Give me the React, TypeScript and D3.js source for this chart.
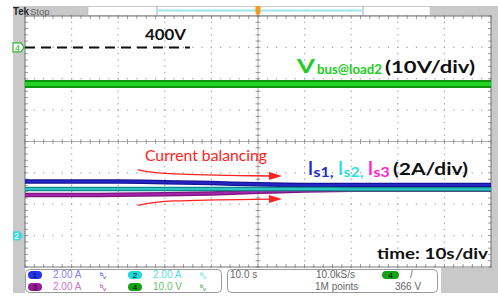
import React from 'react';
import * as d3 from 'd3';

// scope capture: 10 s/div, 10 divisions
const timeS = [0, 10, 20, 30, 40, 50, 60, 70, 80, 90, 100];
const vbusV = [388.3, 388.3, 388.3, 388.3, 388.3, 388.3, 388.3, 388.3, 388.3, 388.3, 388.3];
const is1A = [3.45, 3.45, 3.45, 3.41, 3.35, 3.27, 3.23, 3.23, 3.23, 3.22, 3.22];
const is2A = [2.97, 2.97, 2.97, 2.97, 2.97, 2.97, 2.97, 2.96, 2.96, 2.96, 2.96];
const is3A = [2.59, 2.59, 2.6, 2.63, 2.69, 2.79, 2.88, 2.92, 2.93, 2.93, 2.93];

// annotation arrows (time s, amps on the current scale)
const arrowUpper = [[24.2, 4.2], [29, 3.9], [53, 3.8]];
const arrowLower = [[24.2, 1.93], [29, 2.25], [53, 2.33]];

const chNames = ['1', '2', '3', '4'];
const chScales = ['2.00 A', '2.00 A', '2.00 A', '10.0 V'];
const refLabel = '400V';

const X0 = 25, X1 = 491, Y0 = 16, Y1 = 267;

export default function App() {
  const x = d3.scaleLinear().domain([0, 100]).range([X0, X1]);
  const yDiv = d3.scaleLinear().domain([-4, 4]).range([Y1, Y0]);
  const yV = (v: number) => yDiv(3 + (v - 400) / 10);
  const yA = (a: number) => yDiv(-3 + a / 2);

  const lineOf = (vals: number[], ys: (v: number) => number) =>
    d3.line<number>().x((_, i) => x(timeS[i])).y((d) => ys(d)).curve(d3.curveMonotoneX)(vals) || '';
  const arrowPath = (pts: number[][]) =>
    d3.line<number[]>().x((d) => x(d[0])).y((d) => yA(d[1])).curve(d3.curveBasis)(pts) || '';
  const head = (pts: number[][]) => {
    const p = pts[pts.length - 1];
    const ex = x(p[0]) + 10, ey = yA(p[1]);
    return `M${ex - 13},${ey - 4}L${ex},${ey}L${ex - 13},${ey + 4}Z`;
  };

  const majorX = d3.range(0, 11).map((i) => x(i * 10));
  const majorY = d3.range(-4, 5).map((d) => yDiv(d));
  const minorX = d3.range(0, 51).map((i) => x(i * 2));
  const minorY = d3.range(0, 41).map((i) => yDiv(-4 + i * 0.2));
  const cx = x(50), cy = yDiv(0);

  const chColors = ['#2233ee', '#22d8dc', '#99189c', '#15a015'];
  const chText = ['#7f7fff', '#55dde0', '#cc70cc', '#66c266'];
  const ui = 'Liberation Sans, Arial, sans-serif';
  const lab = 'Lato, sans-serif';

  return (
    <svg width={498} height={296} style={{ position: 'absolute', left: 0, top: 0 }}>
      <rect width={498} height={296} fill="#fff" />
      {/* frame */}
      <rect x={13} y={6} width={485} height={10} fill="#c9c9c9" />
      <rect x={13} y={6} width={12} height={287} fill="#c9c9c9" />
      <rect x={491} y={6} width={7} height={263} fill="#c9c9c9" />
      <rect x={441} y={268} width={57} height={25} fill="#c9c9c9" />
      <rect x={88} y={6.5} width={342} height={9} fill="#fff" stroke="#bbb" strokeWidth={0.6} />
      <line x1={157} x2={157} y1={6} y2={16} stroke="#aaa" />
      <line x1={363} x2={363} y1={6} y2={16} stroke="#aaa" />
      <line x1={157} x2={363} y1={10.5} y2={10.5} stroke="#9ee6ec" strokeWidth={2} />
      <text x={13} y={15} fontFamily={ui} fontSize={11} fontWeight="bold" textLength={16} lengthAdjust="spacingAndGlyphs" fill="#222">Tek</text>
      <text x={30} y={15} fontFamily={ui} fontSize={9.5} fill="#666">Stop</text>
      <path d={`M${cx - 2.5},6 h5 v7 l-2.5,3 l-2.5,-3 z`} fill="#f29a1c" />

      {/* graticule */}
      {majorY.map((yy, i) =>
        minorX.map((xx, j) => <rect key={`h${i}-${j}`} x={xx - 0.6} y={yy - 0.6} width={1.2} height={1.2} fill="#a0a0a0" />)
      )}
      {majorX.map((xx, i) =>
        minorY.map((yy, j) => <rect key={`v${i}-${j}`} x={xx - 0.6} y={yy - 0.6} width={1.2} height={1.2} fill="#a0a0a0" />)
      )}
      <line x1={cx} x2={cx} y1={Y0} y2={Y1} stroke="#999" strokeWidth={0.8} />
      <line x1={X0} x2={X1} y1={cy} y2={cy} stroke="#999" strokeWidth={0.8} />
      {minorX.map((xx, j) => (
        <g key={`tx${j}`} stroke="#888" strokeWidth={0.8}>
          <line x1={xx} x2={xx} y1={cy - 2.5} y2={cy + 2.5} />
          <line x1={xx} x2={xx} y1={Y0} y2={Y0 + 3} />
          <line x1={xx} x2={xx} y1={Y1 - 3} y2={Y1} />
        </g>
      ))}
      {minorY.map((yy, j) => (
        <g key={`ty${j}`} stroke="#888" strokeWidth={0.8}>
          <line x1={cx - 2.5} x2={cx + 2.5} y1={yy} y2={yy} />
          <line x1={X0} x2={X0 + 3} y1={yy} y2={yy} />
          <line x1={X1 - 3} x2={X1} y1={yy} y2={yy} />
        </g>
      ))}
      <rect x={X0} y={Y0} width={X1 - X0} height={Y1 - Y0} fill="none" stroke="#777" strokeWidth={1} />

      {/* channel markers */}
      <path d={`M13,${yV(400) - 4.5} h8 l3,4.5 l-3,4.5 h-8 z`} fill="#fff" stroke="#2fb82f" strokeWidth={1.2} />
      <text x={15} y={yV(400) + 3.5} fontFamily={ui} fontSize={9} fill="#2fb82f">4</text>
      <path d={`M13,${yA(0) - 4.5} h7 l3,4.5 l-3,4.5 h-7 z`} fill="#3fd8e0" />
      <text x={14} y={yA(0) + 3.5} fontFamily={ui} fontSize={9} fill="#fff">2</text>

      {/* reference 400V */}
      <line x1={X0} x2={190} y1={yV(400)} y2={yV(400)} stroke="#111" strokeWidth={2} strokeDasharray="10,6" />
      <text x={145} y={40} fontFamily={lab} fontSize={15} fontWeight="bold" textLength={41} lengthAdjust="spacingAndGlyphs" fill="#111">{refLabel}</text>

      {/* traces */}
      <path d={lineOf(vbusV, yV)} fill="none" stroke="#0c940c" strokeWidth={8} />
      <path d={lineOf(vbusV, yV)} fill="none" stroke="#24d424" strokeWidth={4} />
      <path d={lineOf(is3A, yA)} fill="none" stroke="#7c147e" strokeWidth={4.5} />
      <path d={lineOf(is3A, yA)} fill="none" stroke="#a424ac" strokeWidth={2} />
      <path d={lineOf(is1A, yA)} fill="none" stroke="#14149a" strokeWidth={4.5} />
      <path d={lineOf(is1A, yA)} fill="none" stroke="#2626c4" strokeWidth={2} />
      <path d={lineOf(is2A, yA)} fill="none" stroke="#138a8a" strokeWidth={4.5} />
      <path d={lineOf(is2A, yA)} fill="none" stroke="#2cc4c4" strokeWidth={2} />

      {/* annotations */}
      <path d={arrowPath(arrowUpper)} fill="none" stroke="#ff2222" strokeWidth={1.3} />
      <path d={head(arrowUpper)} fill="#ff2222" />
      <path d={arrowPath(arrowLower)} fill="none" stroke="#ff2222" strokeWidth={1.3} />
      <path d={head(arrowLower)} fill="#ff2222" />
      <text x={145} y={160.5} fontFamily={lab} fontSize={14.5} textLength={122} lengthAdjust="spacingAndGlyphs" fill="#ff2222">Current balancing</text>

      <text x={297} y={73} fontFamily={lab} fontSize={19} fontWeight="bold" textLength={18} lengthAdjust="spacingAndGlyphs" fill="#22cc22">V</text>
      <text x={317} y={74} fontFamily={lab} fontSize={12.5} fontWeight="bold" textLength={65} lengthAdjust="spacingAndGlyphs" fill="#22cc22">bus@load2</text>
      <text x={385} y={73} fontFamily={lab} fontSize={17.5} fontWeight="bold" textLength={90} lengthAdjust="spacingAndGlyphs" fill="#111">(10V/div)</text>

      <text x={308} y={175} fontFamily={lab} fontSize={18} fontWeight="bold" textLength={5} lengthAdjust="spacingAndGlyphs" fill="#1f2bd0">I</text>
      <text x={313.5} y={177} fontFamily={lab} fontSize={12.5} fontWeight="bold" textLength={20} lengthAdjust="spacingAndGlyphs" fill="#1f2bd0">s1,</text>
      <text x={338} y={175} fontFamily={lab} fontSize={18} fontWeight="bold" textLength={5} lengthAdjust="spacingAndGlyphs" fill="#2ee0e0">I</text>
      <text x={343.5} y={177} fontFamily={lab} fontSize={12.5} fontWeight="bold" textLength={20} lengthAdjust="spacingAndGlyphs" fill="#2ee0e0">s2,</text>
      <text x={368} y={175} fontFamily={lab} fontSize={18} fontWeight="bold" textLength={5} lengthAdjust="spacingAndGlyphs" fill="#ff22cc">I</text>
      <text x={373.5} y={177} fontFamily={lab} fontSize={12.5} fontWeight="bold" textLength={16} lengthAdjust="spacingAndGlyphs" fill="#ff22cc">s3</text>
      <text x={393} y={175} fontFamily={lab} fontSize={17.5} fontWeight="bold" textLength={75} lengthAdjust="spacingAndGlyphs" fill="#111">(2A/div)</text>

      <text x={377} y={259} fontFamily={lab} fontSize={16} fontWeight="bold" textLength={111} lengthAdjust="spacingAndGlyphs" fill="#111">time: 10s/div</text>

      {/* readout panels */}
      <rect x={25.5} y={269.5} width={196} height={23} rx={4} fill="#fff" stroke="#999" />
      <rect x={227.5} y={269.5} width={210} height={23} rx={4} fill="#fff" stroke="#999" />
      {chNames.map((n, i) => {
        const col = i % 2, row = Math.floor(i / 2);
        const px = 28 + col * 100, py = 271 + row * 12;
        return (
          <g key={n}>
            <rect x={px} y={py} width={14} height={8} rx={4} fill={chColors[i]} />
            <text x={px + 7} y={py + 7} textAnchor="middle" fontFamily={ui} fontSize={8} fill="#111">{n}</text>
            <text x={px + 25} y={py + 7} fontFamily={ui} fontSize={10} fill={chText[i]}>{chScales[i]}</text>
            <text x={px + 72} y={py + 4.5} fontFamily={ui} fontSize={6} fill={chColors[i]}>b</text>
            <text x={px + 75} y={py + 8} fontFamily={ui} fontSize={6} fill={chColors[i]}>v</text>
          </g>
        );
      })}
      <text x={230} y={278} fontFamily={ui} fontSize={10} fill="#666">10.0 s</text>
      <text x={316} y={278} fontFamily={ui} fontSize={10} fill="#666">10.0kS/s</text>
      <text x={315} y={290} fontFamily={ui} fontSize={10} fill="#666">1M points</text>
      <rect x={382} y={271} width={17} height={8} rx={4} fill="#15a015" />
      <text x={390.5} y={278} textAnchor="middle" fontFamily={ui} fontSize={8} fill="#111">4</text>
      <text x={410} y={278} fontFamily={ui} fontSize={10} fill="#666">/</text>
      <text x={395} y={290} fontFamily={ui} fontSize={10} fill="#666">366 V</text>
    </svg>
  );
}
